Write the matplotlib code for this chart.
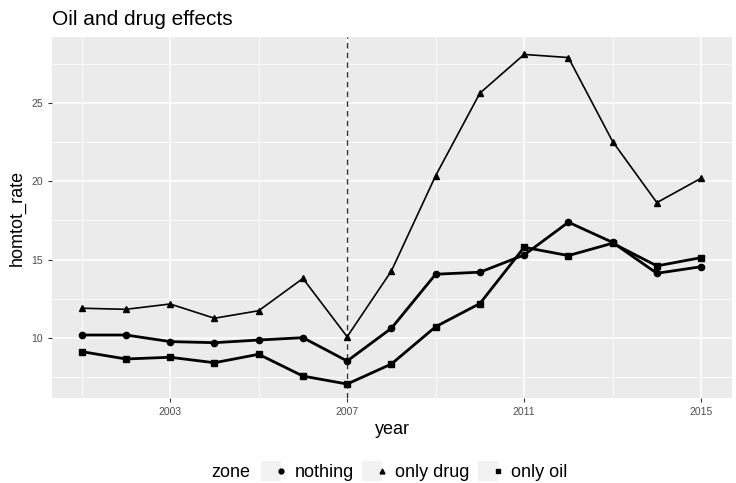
import matplotlib
matplotlib.use("Agg")
import matplotlib.pyplot as plt
from matplotlib.lines import Line2D
from matplotlib.legend_handler import HandlerTuple

years = list(range(2001, 2016))
nothing = [10.19, 10.19, 9.77, 9.70, 9.87, 10.02, 8.53, 10.62, 14.07, 14.20, 15.30, 17.39, 16.10, 14.13, 14.55]
only_drug = [11.90, 11.83, 12.17, 11.26, 11.74, 13.80, 10.08, 14.28, 20.36, 25.63, 28.10, 27.90, 22.54, 18.64, 20.20]
only_oil = [9.13, 8.66, 8.77, 8.42, 8.96, 7.57, 7.06, 8.34, 10.72, 12.20, 15.79, 15.26, 16.05, 14.60, 15.13]
x_ticks = [2003, 2007, 2011, 2015]
y_ticks = [10, 15, 20, 25]
break_year = 2007

plt.rcParams["font.family"] = ["Liberation Sans", "DejaVu Sans"]

fig = plt.figure(figsize=(7.36, 4.83), dpi=100)
ax = fig.add_axes([0.0707, 0.176, 0.924, 0.747])
ax.set_facecolor("#EBEBEB")
for s in ax.spines.values():
    s.set_visible(False)

ax.set_xlim(2000.33, 2015.7)
ax.set_ylim(6.17, 29.2)
ax.set_xticks(x_ticks)
ax.set_yticks(y_ticks)
ax.set_xticks([2001, 2005, 2009, 2013], minor=True)
ax.set_yticks([7.5, 12.5, 17.5, 22.5, 27.5], minor=True)
ax.grid(which="major", color="white", linewidth=1.1)
ax.grid(which="minor", color="white", linewidth=0.55)
ax.set_axisbelow(True)
ax.tick_params(which="major", length=3, color="#333333", labelsize=7.5, labelcolor="#4D4D4D")
ax.tick_params(which="minor", length=0)

ax.axvline(break_year, color="#333333", linestyle=(0, (4, 3)), linewidth=1.0)

ax.plot(years, only_drug, color="black", linewidth=1.2, marker="^", markersize=4.5, zorder=3)
ax.plot(years, nothing, color="black", linewidth=2.0, marker="o", markersize=4.5, zorder=3)
ax.plot(years, only_oil, color="black", linewidth=2.0, marker="s", markersize=4.5, zorder=3)

ax.set_xlabel("year", fontsize=13, labelpad=3)
ax.set_ylabel("homtot_rate", fontsize=13, labelpad=4)
fig.text(0.0707, 0.94, "Oil and drug effects", fontsize=15, ha="left", va="bottom")

# legend at the bottom, ggplot-like with grey key boxes
def key(marker):
    bg = Line2D([], [], linestyle="none", marker="s", markersize=15, color="#F2F2F2", markeredgewidth=0)
    fg = Line2D([], [], linestyle="none", marker=marker, markersize=3.5, color="black")
    return (bg, fg)

handles = [key("o"), key("^"), key("s")]
labels = ["nothing", "only drug", "only oil"]
fig.text(0.287, 0.022, "zone", fontsize=13, ha="left", va="center")
fig.legend(handles, labels, handler_map={tuple: HandlerTuple(ndivide=None, pad=0)},
           loc="center left", bbox_to_anchor=(0.362, 0.022), ncol=3, frameon=False,
           fontsize=13, handlelength=1.1, handletextpad=0.45, columnspacing=0.75,
           borderaxespad=0, borderpad=0)

fig.savefig("out.png", dpi=100)
